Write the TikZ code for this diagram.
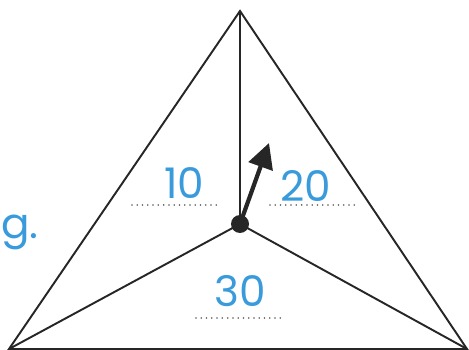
\documentclass[tikz,border=0pt]{standalone}
\usepackage{fontspec}
\usepackage{xcolor}
\usepackage{tikz}
\usetikzlibrary{arrows.meta, positioning, calc}
\setmainfont{Poppins}
\definecolor{penblue}{HTML}{3A9BDC}

\begin{document}
\begin{tikzpicture}[
    x=0.02cm, y=-0.02cm,
    edge/.style={draw=black!85, line width=1.1pt},
    hub/.style={circle, fill=black!85, minimum size=0.36cm, inner sep=0pt},
    hand/.style={text=penblue, font=\fontsize{24}{26}\selectfont, inner sep=0pt},
    blank/.style={draw=black!65, line width=1pt, line cap=round, dash pattern=on 0pt off 3pt},
    >=Triangle
]
\useasboundingbox (0,0) rectangle (469,350);

% --- Corners and centre ---
\coordinate (top) at (240,11);
\coordinate (left) at (9,349);
\coordinate (right) at (467,349);
\node[hub] (mid) at (240,224) {};

% --- Triangle and spokes ---
\draw[edge] (top) -- (left) -- (right) -- cycle;
\draw[edge] (mid.center) -- (top);
\draw[edge] (mid.center) -- (left);
\draw[edge] (mid.center) -- (right);

% --- Pointer ---
\coordinate (tip) at (269,143);
\draw[line width=2.4pt, black!85, -{Triangle[length=0.5cm, width=0.5cm]}] (mid.center) -- (tip);

% --- Numbers on the blanks ---
\node[hand] (ten) at (184,183) {10};
\node[hand] (twenty) at (306,186) {20};
\node[hand] (thirty) at (240,291) {30};
\node[hand, anchor=west] (gee) at (1,232) {g.};

\coordinate (b1l) at (132,205); \coordinate (b1r) at (220,205);
\coordinate (b2l) at (270,205); \coordinate (b2r) at (358,205);
\coordinate (b3l) at (196,318); \coordinate (b3r) at (285,318);
\draw[blank] (b1l) -- (b1r);
\draw[blank] (b2l) -- (b2r);
\draw[blank] (b3l) -- (b3r);

\end{tikzpicture}
\end{document}
